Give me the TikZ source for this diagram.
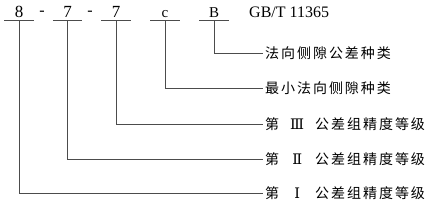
\documentclass[tikz,border=0pt]{standalone}
\usepackage{fontspec}
\setmainfont{Liberation Serif}
\newfontfamily\cjk[LetterSpace=14]{Noto Sans CJK SC}
\newfontfamily\numfont{DejaVu Serif}
\newcommand{\rn}[1]{\hspace{2pt}\makebox[32pt]{\numfont\fontsize{14.5}{14.5}\selectfont #1}\hspace{2pt}}
\usetikzlibrary{positioning}

\begin{document}
\begin{tikzpicture}[x=1pt, y=-1pt,
  code/.style={anchor=south, inner sep=0pt, minimum width=29pt, text depth=3.5pt, font=\fontsize{17}{17}\selectfont},
  codesm/.style={code, font=\fontsize{15}{15}\selectfont},
  sepmark/.style={inner sep=0pt, font=\fontsize{16}{16}\selectfont},
  desc/.style={anchor=west, inner sep=2pt, font=\cjk\fontsize{14}{14}\selectfont},
  lead/.style={draw=black!70, line width=0.8pt}
]
\useasboundingbox (0,0) rectangle (438,204);

% code line
\node[code] (g1) at (19,20.7) {8};
\node[sepmark] (s1) at (42,13) {-};
\node[code] (g2) at (67.5,20.7) {7};
\node[sepmark] (s2) at (90,13) {-};
\node[code] (g3) at (116,20.7) {7};
\node[codesm] (jn) at (165,20.7) {c};
\node[codesm] (jt) at (214,20.7) {B};
\node[anchor=base west, inner sep=0pt, font=\fontsize{16}{16}\selectfont] (std) at (249,17) {GB/T 11365};

% descriptions
\node[desc] (dB) at (263,53) {法向侧隙公差种类};
\node[desc] (dc) at (263,88) {最小法向侧隙种类};
\node[desc] (d3) at (263,124) {第\rn{Ⅲ}公差组精度等级};
\node[desc] (d2) at (263,159) {第\rn{Ⅱ}公差组精度等级};
\node[desc] (d1) at (263,193) {第\rn{Ⅰ}公差组精度等级};

% underlines and leaders
\foreach \g/\d in {jt/dB, jn/dc, g3/d3, g2/d2, g1/d1} {
  \draw[lead] (\g.south west) -- (\g.south east);
  \draw[lead] (\g.south) |- (\d.west);
}
\end{tikzpicture}
\end{document}
